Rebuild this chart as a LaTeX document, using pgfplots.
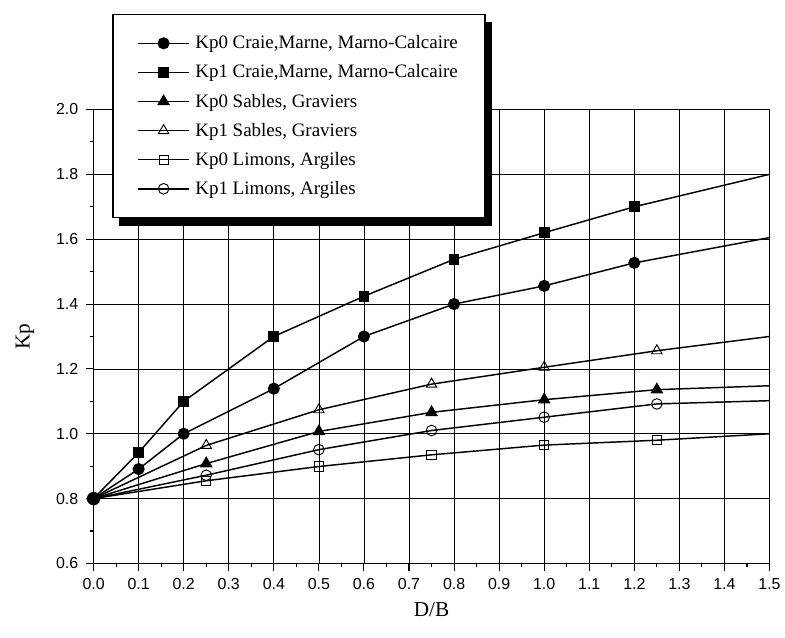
\documentclass[border=0pt]{standalone}
\usepackage{fontspec}
\setmainfont{Liberation Serif}
\newfontfamily\arialf{Liberation Sans}
\usepackage{pgfplots}
\pgfplotsset{compat=1.18}
\usetikzlibrary{backgrounds}
\begin{document}
\begin{tikzpicture}
\begin{axis}[
  at={(0pt,0pt)}, anchor=south west,
  scale only axis, width=509.25pt, height=342pt,
  xmin=0, xmax=1.5, ymin=0.6, ymax=2.0,
  xtick={0,0.1,...,1.51}, ytick={0.6,0.8,...,2.01},
  minor x tick num=1, minor y tick num=1,
  grid=major, major grid style={black, line width=0.5pt},
  tick pos=left,
  axis line style={line width=1.1pt},
  tick align=outside, major tick length=6pt, minor tick length=3pt,
  tick style={black, line width=0.8pt},
  ticklabel style={font=\arialf\fontsize{12}{14}\selectfont},
  xticklabel style={yshift=-2pt, /pgf/number format/.cd, fixed, fixed zerofill, precision=1},
  yticklabel style={xshift=-2pt, /pgf/number format/.cd, fixed, fixed zerofill, precision=1},
  /pgf/number format/assume math mode=true,
  xlabel={D/B}, ylabel={Kp},
  label style={font=\fontsize{16}{19}\selectfont},
  xlabel style={at={(axis description cs:0.5,-0.101)}, anchor=center},
  ylabel style={at={(axis description cs:-0.1016,0.5)}, anchor=center},
  legend cell align=left,
  legend style={name=leg, at={(0.028,1.2105)}, anchor=north west, draw=black, line width=0.8pt, fill=white,
    font=\fontsize{14.3}{17}\selectfont, row sep=6.5pt, inner xsep=18.5pt, inner ysep=14pt},
  legend image code/.code={\draw[mark repeat=2,mark phase=2,#1] plot coordinates {(0cm,0cm) (0.67cm,0cm) (1.34cm,0cm)}; \path (1.42cm,0cm);},
  every axis plot/.append style={line width=1.1pt, black},
]
% Kp0 Craie, Marne, Marno-Calcaire
\addplot[mark=*, mark size=4pt] coordinates {(0,0.8) (0.1,0.891) (0.2,1.0) (0.4,1.139) (0.6,1.30) (0.8,1.40) (1.0,1.456) (1.2,1.527)};
\addlegendentry{Kp0 Craie,Marne, Marno-Calcaire}
% Kp1 Craie
\addplot[mark=square*, mark size=3.5pt] coordinates {(0.1,0.942) (0.2,1.10) (0.4,1.30) (0.6,1.424) (0.8,1.538) (1.0,1.62) (1.2,1.70)};
\addlegendentry{Kp1 Craie,Marne, Marno-Calcaire}
% Kp0 Sables
\addplot[mark=triangle*, mark size=4.5pt] coordinates {(0.25,0.908) (0.5,1.007) (0.75,1.066) (1.0,1.105) (1.25,1.136)};
\addlegendentry{Kp0 Sables, Graviers}
% Kp1 Sables
\addplot[mark=triangle, mark size=4.5pt, mark options={fill=white, line width=0.7pt}] coordinates {(0.25,0.964) (0.5,1.074) (0.75,1.153) (1.0,1.205) (1.25,1.256)};
\addlegendentry{Kp1 Sables, Graviers}
% Kp0 Limons
\addplot[mark=square, mark size=3.5pt, mark options={fill=white, line width=0.7pt}] coordinates {(0.25,0.855) (0.5,0.899) (0.75,0.935) (1.0,0.965) (1.25,0.98)};
\addlegendentry{Kp0 Limons, Argiles}
% Kp1 Limons
\addplot[mark=o, mark size=4pt, mark options={fill=white, line width=0.7pt}] coordinates {(0.25,0.872) (0.5,0.951) (0.75,1.010) (1.0,1.051) (1.25,1.092)};
\addlegendentry{Kp1 Limons, Argiles}
% unmarked segments (start at origin, end at 1.5)
\addplot[forget plot, no marks] coordinates {(1.2,1.527) (1.5,1.605)};
\addplot[forget plot, no marks] coordinates {(0,0.8) (0.1,0.942)};
\addplot[forget plot, no marks] coordinates {(1.2,1.70) (1.5,1.80)};
\addplot[forget plot, no marks] coordinates {(0,0.8) (0.25,0.908)};
\addplot[forget plot, no marks] coordinates {(1.25,1.136) (1.5,1.148)};
\addplot[forget plot, no marks] coordinates {(0,0.8) (0.25,0.964)};
\addplot[forget plot, no marks] coordinates {(1.25,1.256) (1.5,1.30)};
\addplot[forget plot, no marks] coordinates {(0,0.8) (0.25,0.855)};
\addplot[forget plot, no marks] coordinates {(1.25,0.98) (1.5,1.0)};
\addplot[forget plot, no marks] coordinates {(0,0.8) (0.25,0.872)};
\addplot[forget plot, no marks] coordinates {(1.25,1.092) (1.5,1.102)};
\addplot[forget plot, mark=*, mark size=4.5pt, only marks] coordinates {(0,0.8)};
\end{axis}
\begin{scope}[on background layer]
\fill[black] ([xshift=5pt,yshift=-6pt]leg.south west) rectangle ([xshift=5pt,yshift=-6pt]leg.north east);
\end{scope}
\path[use as bounding box] (-70.5pt,-55.5pt) rectangle (518.25pt,424.5pt);
\end{tikzpicture}
\end{document}
